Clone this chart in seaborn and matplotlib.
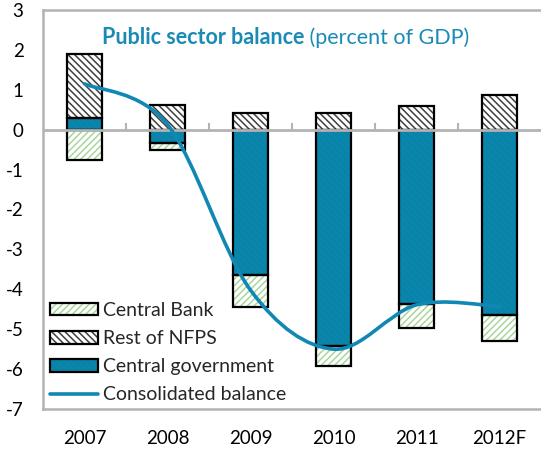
import numpy as np
import pandas as pd
import matplotlib
matplotlib.use("Agg")
import matplotlib.pyplot as plt
import seaborn as sns
from matplotlib.patches import Patch, PathPatch
from matplotlib.path import Path
from matplotlib.lines import Line2D

# Public sector balance components (percent of GDP)
years = ["2007", "2008", "2009", "2010", "2011", "2012F"]
central_gov = [0.30, -0.33, -3.64, -5.42, -4.37, -4.64]
rest_nfps = [1.60, 0.63, 0.42, 0.42, 0.59, 0.86]
central_bank = [-0.75, -0.17, -0.80, -0.50, -0.61, -0.65]
consolidated = [1.15, 0.13, -4.02, -5.50, -4.39, -4.43]
y_ticks = [-7, -6, -5, -4, -3, -2, -1, 0, 1, 2, 3]

TEAL = "#0a86ad"
LINE_TEAL = "#1187b3"
TITLE_TEAL = "#1a8bb5"
GREEN = "#a9d69b"
HATCH_GREY = "#404040"
AXIS_GREY = "#b3b3b3"
HATCH_DARK = "\\\\\\\\\\"
HATCH_LIGHT = "/////"

sns.set_theme(style="white")
plt.rcParams["font.family"] = ["Lato", "DejaVu Sans"]
plt.rcParams["hatch.linewidth"] = 1.1

fig = plt.figure(figsize=(5.41, 4.53), dpi=100)
ax = fig.add_axes([43 / 541, 44 / 453, 498 / 541, 399 / 453])

BAR_W = 0.42
n = len(years)
pos_base = np.zeros(n)
neg_base = np.zeros(n)


def stacked_bottom(vals):
    vals = np.asarray(vals, dtype=float)
    bottom = np.where(vals >= 0, pos_base, neg_base)
    pos_base[:] += np.where(vals >= 0, vals, 0)
    neg_base[:] += np.where(vals < 0, vals, 0)
    return bottom


def draw_segment(vals, bottom, face, hatch, hatch_color):
    df = pd.DataFrame({"year": years, "value": vals})
    # hatched fill
    sns.barplot(data=df, x="year", y="value", order=years, errorbar=None,
                width=BAR_W, bottom=bottom, color=face, saturation=1,
                facecolor=face, edgecolor=hatch_color, hatch=hatch,
                linewidth=0, ax=ax, zorder=2)
    # black outline
    sns.barplot(data=df, x="year", y="value", order=years, errorbar=None,
                width=BAR_W, bottom=bottom, color="black", saturation=1,
                facecolor="none", edgecolor="black", linewidth=1.6,
                ax=ax, zorder=3)


draw_segment(central_gov, stacked_bottom(central_gov), TEAL, HATCH_DARK, "#0a81a6")
draw_segment(rest_nfps, stacked_bottom(rest_nfps), "white", HATCH_DARK, HATCH_GREY)
draw_segment(central_bank, stacked_bottom(central_bank), "white", HATCH_LIGHT, GREEN)

# zero line with category separators
ax.axhline(0, color=AXIS_GREY, lw=2, zorder=4)
ax.vlines(np.arange(n - 1) + 0.5, 0, 0.16, color=AXIS_GREY, lw=1.5, zorder=4)

# smoothed consolidated balance (cardinal spline as cubic Bezier segments)
xs = np.arange(n, dtype=float)
ys = np.asarray(consolidated, dtype=float)
px = np.concatenate([[xs[0]], xs, [xs[-1]]])
py = np.concatenate([[ys[0]], ys, [ys[-1]]])
verts = [(xs[0], ys[0])]
codes = [Path.MOVETO]
for i in range(1, n):
    p0 = np.array([px[i - 1], py[i - 1]])
    p1 = np.array([px[i], py[i]])
    p2 = np.array([px[i + 1], py[i + 1]])
    p3 = np.array([px[i + 2], py[i + 2]])
    c1 = p1 + (p2 - p0) / 6
    c2 = p2 - (p3 - p1) / 6
    verts += [tuple(c1), tuple(c2), tuple(p2)]
    codes += [Path.CURVE4] * 3
ax.add_patch(PathPatch(Path(verts, codes), facecolor="none",
                       edgecolor=LINE_TEAL, lw=2.6, zorder=5,
                       capstyle="round"))

ax.set_xlim(-0.5, n - 0.5)
ax.set_ylim(-7, 3)
ax.set_yticks(y_ticks)
ax.set_yticklabels([str(t) for t in y_ticks])
ax.set_xlabel("")
ax.set_ylabel("")
ax.tick_params(axis="y", direction="in", length=5, width=1.5,
               color=AXIS_GREY, pad=14, labelsize=13.5, labelcolor="black")
ax.tick_params(axis="x", length=0, pad=15, labelsize=13.5, labelcolor="black")

for side in ["left", "top", "bottom"]:
    ax.spines[side].set_visible(True)
    ax.spines[side].set_color(AXIS_GREY)
    ax.spines[side].set_linewidth(1.8)
ax.spines["right"].set_visible(False)

# title
t1 = ax.text((102 - 43) / 498, (409 - 37) / 399, "Public sector balance",
             transform=ax.transAxes, fontsize=15.5, fontweight="bold",
             color=TITLE_TEAL, ha="left", va="center")
ax.annotate(" (percent of GDP)", xy=(1, 0), xycoords=t1, fontsize=15.5,
            color=TITLE_TEAL, ha="left", va="bottom")

# legend
h_cb = (Patch(facecolor="white", edgecolor=GREEN, hatch=HATCH_LIGHT, lw=0),
        Patch(facecolor="none", edgecolor="black", lw=1.6))
h_nfps = (Patch(facecolor="white", edgecolor=HATCH_GREY, hatch=HATCH_DARK, lw=0),
          Patch(facecolor="none", edgecolor="black", lw=1.6))
h_cg = (Patch(facecolor=TEAL, edgecolor="#0a81a6", hatch=HATCH_DARK, lw=0),
        Patch(facecolor="none", edgecolor="black", lw=1.6))
h_line = Line2D([], [], color=LINE_TEAL, lw=2.6)
ax.legend([h_cb, h_nfps, h_cg, h_line],
          ["Central Bank", "Rest of NFPS", "Central government", "Consolidated balance"],
          loc="upper left", bbox_to_anchor=((50 - 43) / 498, (409 - 302) / 399),
          frameon=False, borderpad=0, borderaxespad=0, fontsize=14,
          handlelength=2.45, handleheight=0.62, handletextpad=0.3,
          labelspacing=0.57)

fig.savefig("out.png", dpi=100)
